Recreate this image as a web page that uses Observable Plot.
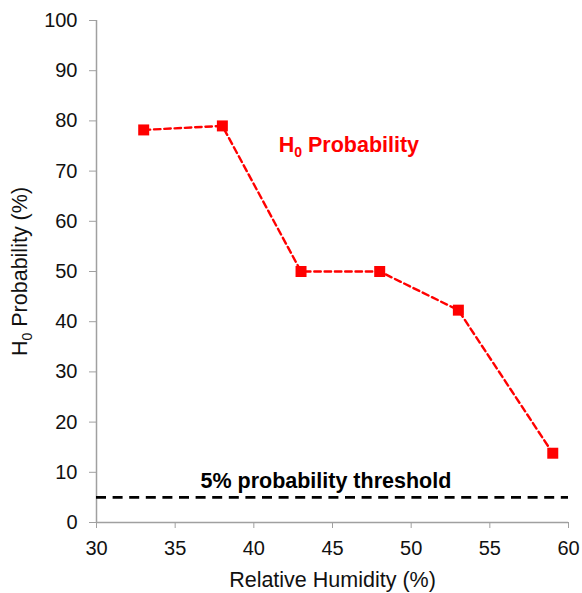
<!DOCTYPE html>
<html>
<head>
<meta charset="utf-8">
<script src="https://cdn.jsdelivr.net/npm/d3@7"></script>
<script src="https://cdn.jsdelivr.net/npm/@observablehq/plot@0.6"></script>
<style>
  html, body { margin: 0; padding: 0; background: #fff; }
  #chart { width: 582px; height: 593px; }
</style>
</head>
<body>
<div id="chart"></div>
<script>
// Data
const humidity = [33, 38, 43, 48, 53, 59];
const probability = [78.2, 79.0, 50.0, 50.0, 42.3, 13.8];
const threshold = [5];
const xTicks = [30, 35, 40, 45, 50, 55, 60];
const yTicks = [0, 10, 20, 30, 40, 50, 60, 70, 80, 90, 100];

const rows = humidity.map((h, i) => ({h, p: probability[i]}));

const FONT = "Liberation Sans, Arial, Helvetica, sans-serif";
const AXIS = "#a0a0a0";
const RED = "#ff0000";
const LABEL_SIZE = 21.5;

const chart = Plot.plot({
  width: 582,
  height: 593,
  marginLeft: 96,
  marginRight: 14,
  marginTop: 20,
  marginBottom: 71,
  style: {fontFamily: FONT, fontSize: "20px", background: "#fff", color: "#000"},
  x: {domain: [30, 60]},
  y: {domain: [0, 100]},
  marks: [
    Plot.axisX({ticks: xTicks, tickSize: 6, tickPadding: 12, stroke: AXIS, fill: "#111", fontSize: 20, label: null}),
    Plot.axisY({ticks: yTicks, tickSize: 7, tickPadding: 12, stroke: AXIS, fill: "#111", fontSize: 20, label: null}),
    Plot.ruleX([30], {stroke: AXIS, strokeWidth: 1.5}),
    Plot.ruleY([0], {stroke: AXIS, strokeWidth: 1.5}),
    Plot.ruleY(threshold, {x1: 30, x2: 60, stroke: "#000", strokeWidth: 2.8, strokeDasharray: "10,6.6"}),
    Plot.line(rows, {x: "h", y: "p", stroke: RED, strokeWidth: 2.4, strokeDasharray: "6.5,3.8"}),
    Plot.dot(rows, {x: "h", y: "p", symbol: "square", r: 6.2, fill: RED, stroke: "none"}),
    Plot.text(["5% probability threshold"], {x: 44.58, y: 8.3, text: d => d, fontWeight: "bold", fontSize: LABEL_SIZE, fill: "#000", textAnchor: "middle", lineAnchor: "middle"}),
    Plot.text(["H0 Probability"], {x: 46.04, y: 75.1, text: d => d, fontWeight: "bold", fontSize: LABEL_SIZE, fill: RED, textAnchor: "middle", lineAnchor: "middle"}),
    Plot.text(["Relative Humidity (%)"], {frameAnchor: "bottom", dy: 57.4, text: d => d, fontSize: LABEL_SIZE, fill: "#111", textAnchor: "middle", lineAnchor: "middle"}),
    Plot.text(["H0 Probability (%)"], {frameAnchor: "left", dx: -76, rotate: -90, text: d => d, fontSize: LABEL_SIZE, fill: "#111", textAnchor: "middle", lineAnchor: "middle"})
  ]
});

document.getElementById("chart").appendChild(chart);

// Turn the "0" after "H" into a real subscript
d3.select(chart).selectAll("text").each(function() {
  const t = d3.select(this);
  const s = this.textContent;
  if (s.startsWith("H0 ") && this.childElementCount === 0) {
    this.textContent = "";
    t.append("tspan").text("H");
    t.append("tspan").attr("font-size", "14px").attr("dy", "4.5").text("0");
    t.append("tspan").attr("dy", "-4.5").text(s.slice(2));
  }
});
</script>
</body>
</html>
